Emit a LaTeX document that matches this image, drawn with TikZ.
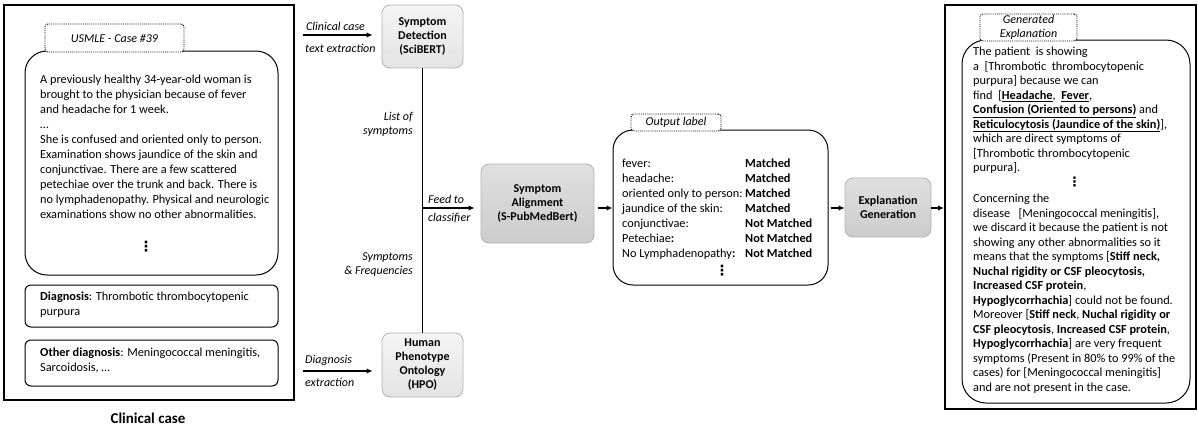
\documentclass[tikz,border=0pt]{standalone}
\usepackage{fontspec}
\setmainfont{Carlito}
\newfontfamily\dejavu{DejaVu Sans}
\usetikzlibrary{arrows.meta}
\newcommand{\vdt}{{\dejavu\bfseries ⋮}}
\begin{document}
\begin{tikzpicture}[x=1pt,y=-1pt,
  outerbox/.style={draw, line width=2pt, inner sep=0pt},
  tabbox/.style={draw, densely dotted, rounded corners=3pt, line width=0.9pt, fill=white, inner sep=0pt, font=\itshape\fontsize{12}{14}\selectfont, align=center},
  panel/.style={draw, line width=1pt, rounded corners=22pt, inner sep=0pt},
  smallpanel/.style={draw, line width=1pt, rounded corners=6pt, inner sep=0pt},
  procbox/.style={draw=gray!60, line width=0.8pt, rounded corners=8pt, inner sep=0pt, align=center, font=\bfseries\fontsize{12}{14}\selectfont},
  lightproc/.style={procbox, top color=gray!8, bottom color=gray!22},
  darkproc/.style={procbox, top color=gray!25, bottom color=gray!40},
  conn/.style={line width=1.2pt, -{Latex[length=6pt,width=5.5pt]}},
  lbl/.style={font=\itshape\fontsize{12}{14}\selectfont, inner sep=0pt},
  body/.style={align=left, inner sep=0pt, font=\fontsize{12.3}{15}\selectfont},
  dots/.style={inner sep=0pt, font=\fontsize{14}{14}\selectfont}
]
\useasboundingbox (0,0) rectangle (1198,426);

% ---------- left panel ----------
\node[outerbox, minimum width=290pt, minimum height=395pt] (lout) at (149,202.5) {};
\node[panel, minimum width=253pt, minimum height=224pt] (casebox) at (151.5,163) {};
\node[tabbox, minimum width=139pt, minimum height=28pt] (tab1) at (114.5,38) {USMLE - Case \#39};
\node[body, anchor=north west] (casetext) at (40,75) {A previously healthy 34-year-old woman is\\
brought to the physician because of fever\\
and headache for 1 week.\\
\dots\\
She is confused and oriented only to person.\\
Examination shows jaundice of the skin and\\
conjunctivae. There are a few scattered\\
petechiae over the trunk and back. There is\\
no lymphadenopathy. Physical and neurologic\\
examinations show no other abnormalities.};
\node[dots] (casedots) at (146,247) {\vdt};
\node[smallpanel, minimum width=253pt, minimum height=42pt] (diagbox) at (151.5,306) {};
\node[body, anchor=north west] (diagtext) at (40,292) {\textbf{Diagnosis}: Thrombotic thrombocytopenic\\purpura};
\node[smallpanel, minimum width=253pt, minimum height=46pt] (othbox) at (151.5,363) {};
\node[body, anchor=north west] (othtext) at (40,348) {\textbf{Other diagnosis}: Meningococcal meningitis,\\Sarcoidosis, \dots};
\node[font=\bfseries\fontsize{15}{17}\selectfont, inner sep=0pt] (cc) at (148,418) {Clinical case};

% ---------- middle ----------
\node[lightproc, minimum width=81pt, minimum height=63pt] (sd) at (422.5,36.5) {Symptom\\Detection\\(SciBERT)};
\node[lightproc, minimum width=81pt, minimum height=64pt] (hpo) at (422.5,365) {Human\\Phenotype\\Ontology\\(HPO)};
\draw[line width=1.2pt] (sd.south) -- (hpo.north);

\coordinate (a1s) at (303,35);
\draw[conn, shorten >=9pt] (a1s) -- (a1s -| sd.west);
\node[lbl, anchor=west] (l1a) at (306,26) {Clinical case};
\node[lbl, anchor=west] (l1b) at (305,48) {text extraction};

\coordinate (a2s) at (303,371);
\draw[conn, shorten >=9pt] (a2s) -- (a2s -| hpo.west);
\node[lbl, anchor=west] (l2a) at (305,360) {Diagnosis};
\node[lbl, anchor=west] (l2b) at (305,382) {extraction};

\node[lbl, anchor=east, align=right] (l3) at (413,124) {List of\\symptoms};
\node[lbl, anchor=east, align=right] (l4) at (413,265) {Symptoms\\\& Frequencies};

\node[darkproc, minimum width=113pt, minimum height=79pt] (sa) at (537.5,203.5) {Symptom\\Alignment\\(S-PubMedBert)};
\coordinate (feed) at (422.5,208);
\draw[conn, shorten >=6pt] (feed) -- (feed -| sa.west);
\node[lbl, anchor=west] (l5a) at (428,199) {Feed to};
\node[lbl, anchor=west] (l5b) at (428,218) {classifier};

% ---------- output label ----------
\node[panel, rounded corners=20pt, minimum width=215pt, minimum height=155pt] (out) at (720.5,207.5) {};
\node[tabbox, minimum width=90pt, minimum height=17pt] (tab2) at (676,122.5) {Output label};
\draw[conn, shorten <=4pt] (sa.east |- feed) -- (feed -| out.west);
\node[body, anchor=north west] (rowsl) at (622,158.5) {fever:\\headache:\\oriented only to person:\\jaundice of the skin:\\conjunctivae:\\Petechiae\textbf{:}\\No Lymphadenopathy\textbf{:}};
\node[body, anchor=north west, font=\bfseries\fontsize{12.3}{15}\selectfont] (rowsr) at (745,158.5) {Matched\\Matched\\Matched\\Matched\\Not Matched\\Not Matched\\Not Matched};
\node[dots] (outdots) at (722,271) {\vdt};

% ---------- explanation generation ----------
\node[darkproc, minimum width=86pt, minimum height=59pt] (eg) at (888,207.5) {Explanation\\Generation};
\draw[conn, shorten <=2pt] (out.east |- feed) -- (feed -| eg.west);

% ---------- right panel ----------
\node[outerbox, minimum width=251pt, minimum height=404pt] (rout) at (1070.5,207) {};
\draw[conn] (eg.east |- feed) -- (feed -| rout.west);
\node[panel, rounded corners=24pt, minimum width=228pt, minimum height=363pt] (explbox) at (1076,221.5) {};
\node[tabbox, minimum width=97pt, minimum height=27pt, font=\itshape\fontsize{12}{14.5}\selectfont] (tab3) at (1028.5,27.5) {Generated\\Explanation};
\node[body, anchor=north west, font=\fontsize{12.3}{14.5}\selectfont] (expltext) at (973,47) {The patient\ \ is showing\\
a\ \ {[}Thrombotic\ \ thrombocytopenic\\
purpura] because we can\\
find\ \ {[}\underline{\textbf{Headache}},\ \ \underline{\textbf{Fever}},\\
\underline{\textbf{Confusion (Oriented to persons)}} and\\
\underline{\textbf{Reticulocytosis (Jaundice of the skin)}}],\\
which are direct symptoms of\\
{[}Thrombotic thrombocytopenic\\
purpura].\\
\hspace*{95pt}{\fontsize{13}{13}\selectfont\vdt}\\[2pt]
Concerning the\\
disease\ \ \ {[}Meningococcal meningitis],\\
we discard it because the patient is not\\
showing any other abnormalities so it\\
means that the symptoms {[}\textbf{Stiff neck,}\\
\textbf{Nuchal rigidity or CSF pleocytosis,}\\
\textbf{Increased CSF protein},\\
\textbf{Hypoglycorrhachia}] could not be found.\\
Moreover {[}\textbf{Stiff neck}, \textbf{Nuchal rigidity or}\\
\textbf{CSF pleocytosis}, \textbf{Increased CSF protein},\\
\textbf{Hypoglycorrhachia}] are very frequent\\
symptoms (Present in 80\% to 99\% of the\\
cases) for {[}Meningococcal meningitis]\\
and are not present in the case.};
\end{tikzpicture}
\end{document}
